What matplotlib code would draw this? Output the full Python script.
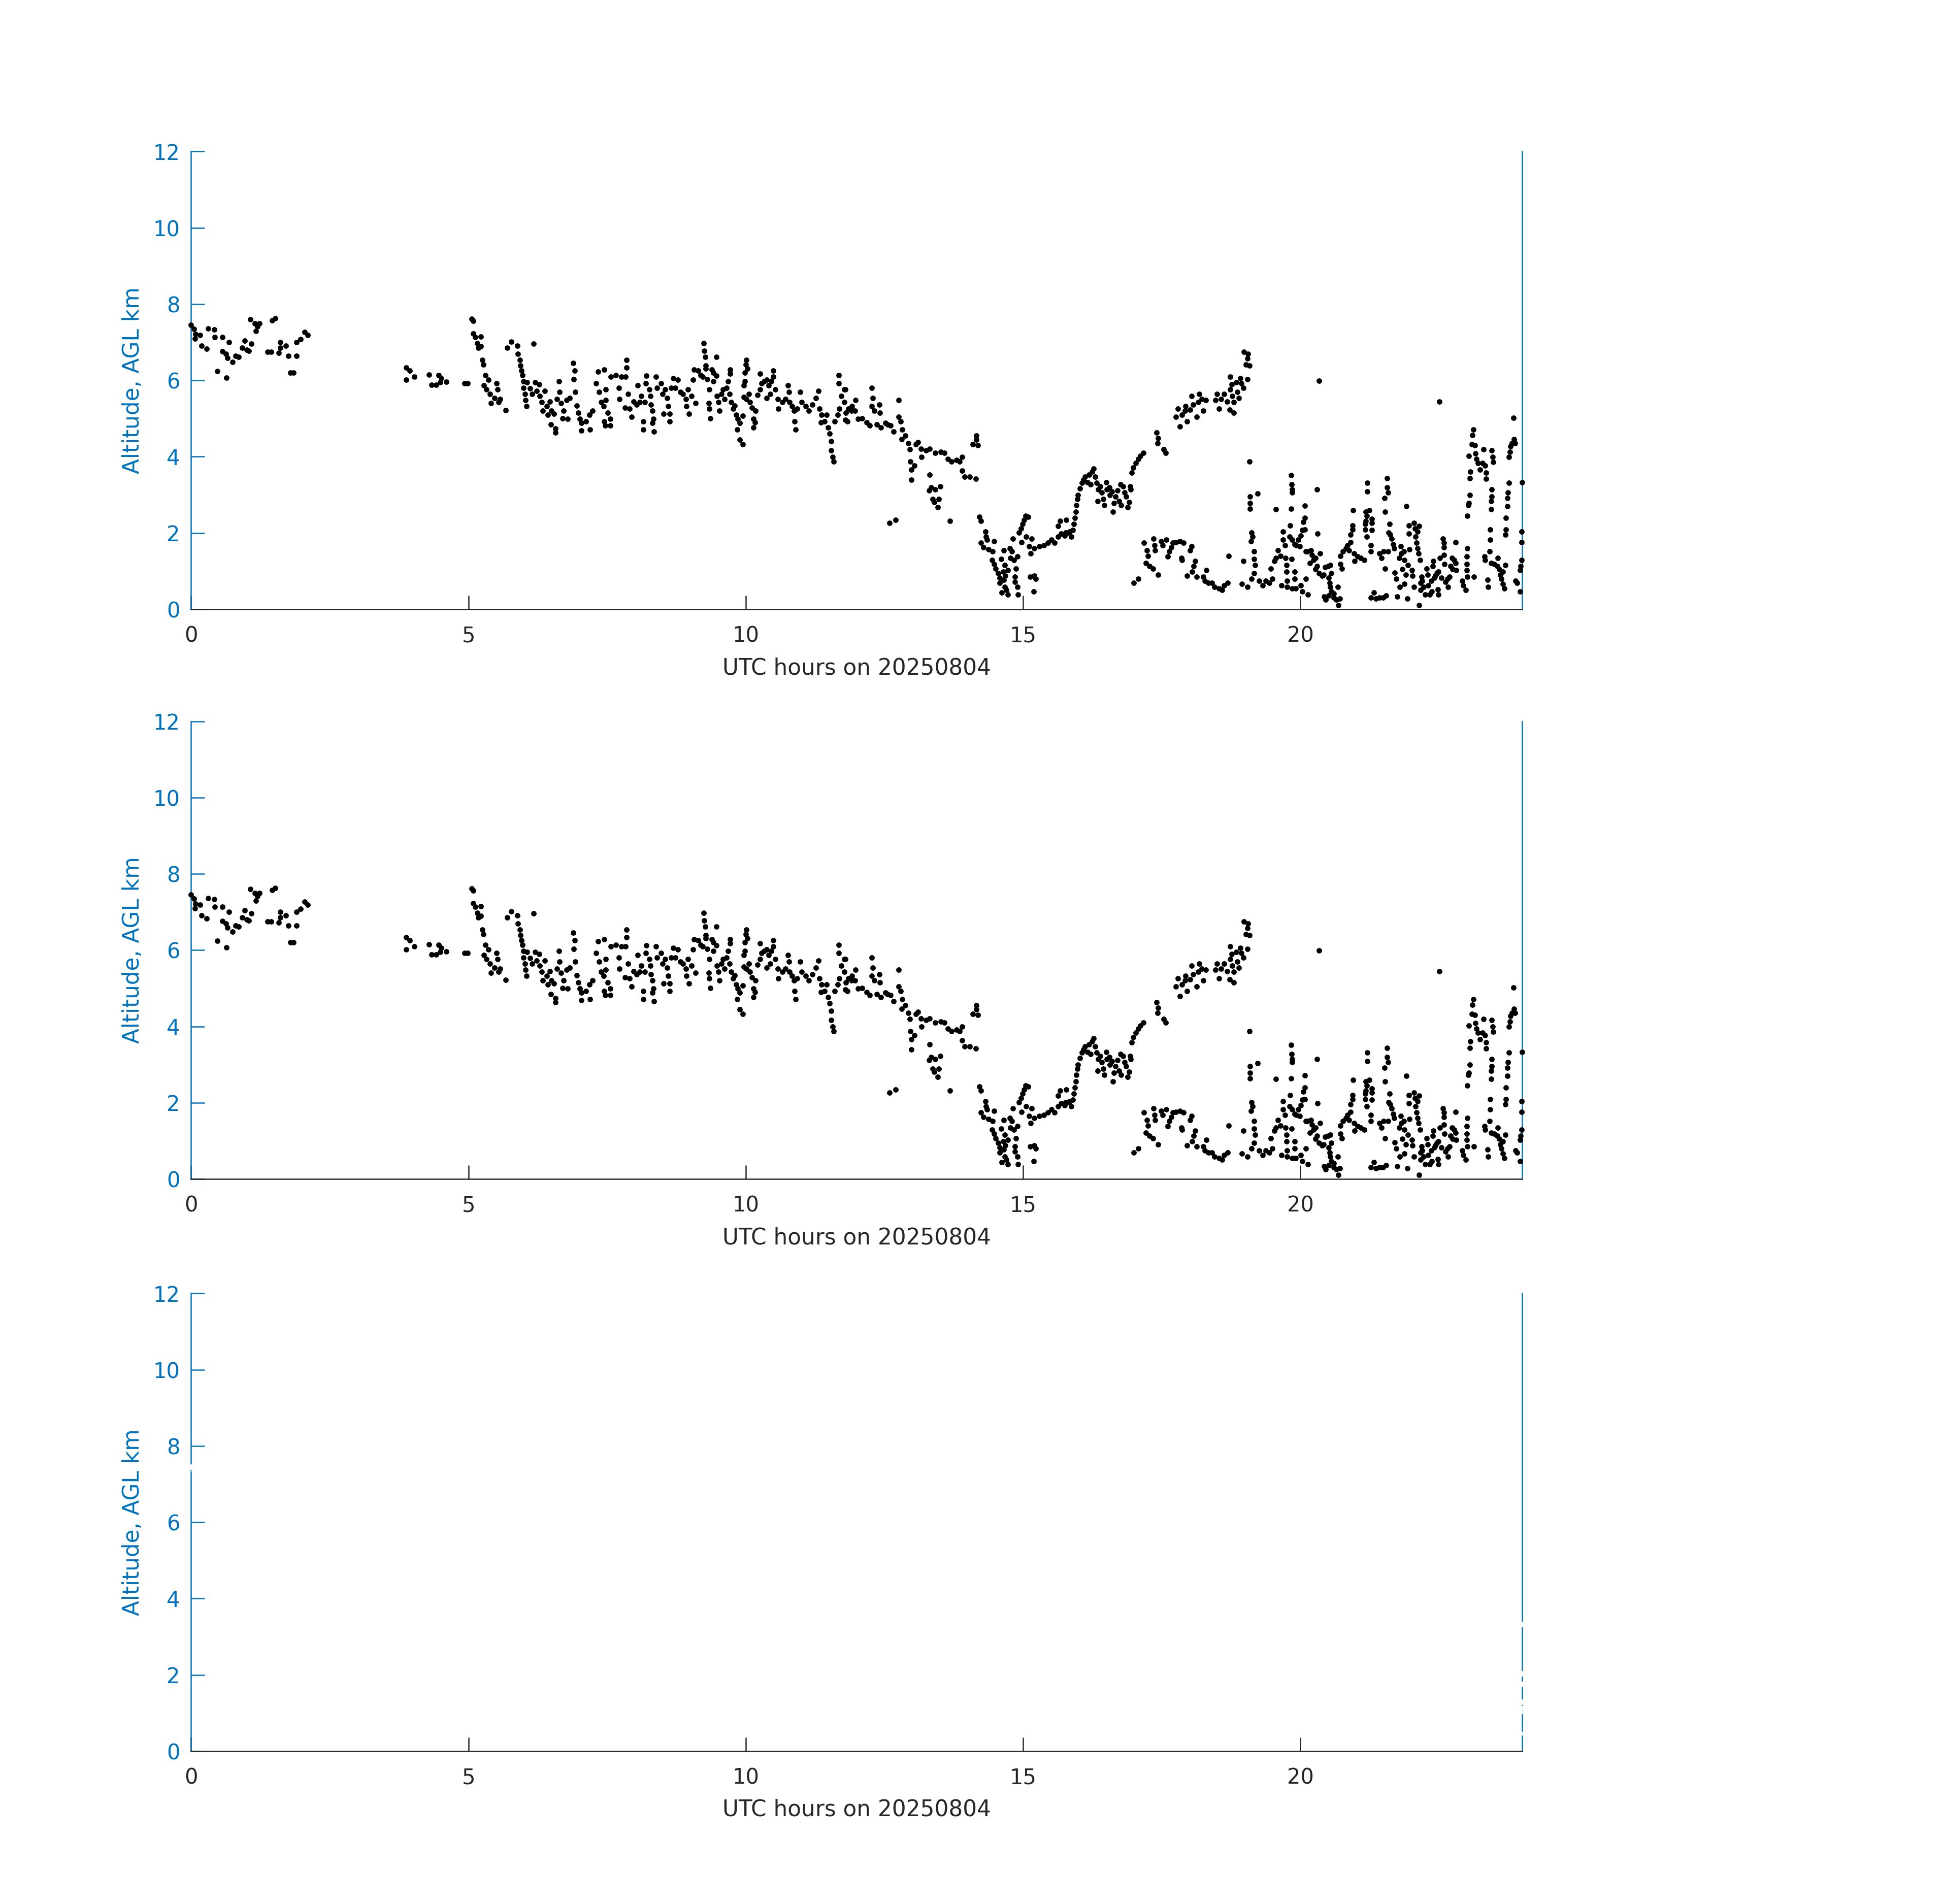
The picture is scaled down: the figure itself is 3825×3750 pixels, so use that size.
import numpy as np
import matplotlib
matplotlib.use("Agg")
import matplotlib.pyplot as plt

# (UTC hour, altitude AGL km), grouped by time span
seg_00_04 = [
    (0.00, 7.45), (0.05, 7.35), (0.08, 7.22), (0.16, 7.19), (0.07, 7.10), (0.19, 6.91), (0.28, 6.83),
    (0.31, 7.36), (0.42, 7.34), (0.43, 7.13), (0.56, 7.13), (0.47, 6.24), (0.64, 6.07), (0.56, 6.76),
    (0.63, 6.69), (0.66, 6.59), (0.68, 7.00), (0.75, 6.48), (0.80, 6.64), (0.86, 6.61), (0.92, 6.86),
    (1.00, 6.80), (0.97, 7.04), (1.04, 6.78), (1.09, 6.96), (1.07, 7.60), (1.15, 7.49), (1.23, 7.49),
    (1.17, 7.30), (1.20, 7.41), (1.46, 7.58), (1.52, 7.63), (1.38, 6.75), (1.44, 6.75), (1.58, 6.72),
    (1.61, 7.00), (1.71, 6.91), (1.61, 6.86), (1.75, 6.64), (1.79, 6.20), (1.85, 6.20), (1.90, 7.00),
    (1.97, 7.08), (2.05, 7.27), (2.10, 7.19), (1.90, 6.64), (3.88, 6.34), (3.94, 6.25), (4.02, 6.09),
    (3.88, 6.01),
]

seg_04_08 = [
    (4.29, 6.15), (4.34, 5.88), (4.42, 5.88), (4.46, 6.14), (4.51, 6.06), (4.60, 5.97), (4.49, 5.95),
    (4.93, 5.93), (4.99, 5.93), (5.06, 7.62), (5.09, 7.56), (5.09, 7.23), (5.12, 7.13), (5.22, 7.15),
    (5.16, 6.98), (5.18, 6.86), (5.22, 6.89), (5.25, 6.54), (5.27, 6.42), (5.31, 6.13), (5.36, 6.01),
    (5.28, 5.87), (5.32, 5.76), (5.39, 5.65), (5.47, 5.54), (5.53, 5.76), (5.57, 5.51), (5.51, 5.92),
    (5.41, 5.40), (5.54, 5.43), (5.67, 5.22), (5.70, 6.86), (5.77, 7.02), (5.88, 6.91), (5.89, 6.69),
    (5.93, 6.53), (5.94, 6.39), (5.96, 6.25), (5.97, 6.14), (5.99, 5.98), (5.99, 5.81), (6.02, 5.65),
    (6.03, 5.48), (6.05, 5.33), (6.18, 6.96), (6.06, 5.95), (6.11, 5.79), (6.20, 5.95), (6.15, 5.65),
    (6.23, 5.73), (6.28, 5.90), (6.29, 5.59), (6.32, 5.43), (6.38, 5.73), (6.34, 5.21), (6.41, 5.32),
    (6.47, 5.45), (6.50, 5.21), (6.43, 5.10), (6.54, 5.12), (6.49, 4.85), (6.57, 4.63), (6.57, 4.74),
    (6.63, 5.98), (6.64, 5.70), (6.60, 5.51), (6.67, 5.40), (6.72, 5.21), (6.77, 5.48), (6.70, 5.01),
    (6.79, 4.99), (6.83, 5.54), (6.89, 6.45), (6.92, 6.25), (6.90, 6.03), (6.93, 5.70), (6.95, 5.34),
    (6.98, 5.15), (7.01, 4.99), (7.04, 4.88), (7.04, 4.68), (7.12, 4.93), (7.18, 5.10), (7.24, 5.21),
    (7.19, 4.71), (7.30, 5.92), (7.34, 6.23), (7.36, 5.70), (7.39, 5.43), (7.44, 5.32), (7.48, 5.48),
    (7.51, 5.15), (7.45, 4.93), (7.47, 4.82), (7.56, 4.99), (7.56, 4.82), (7.45, 6.28), (7.48, 5.76),
    (7.57, 6.09), (7.66, 6.14), (7.76, 6.09), (7.83, 6.09), (7.85, 6.53), (7.85, 6.34), (7.71, 5.81),
    (7.72, 5.51), (7.82, 5.29), (7.88, 5.65), (7.91, 5.26), (7.94, 5.04),
]

seg_08_12 = [
    (7.98, 5.45), (8.03, 5.37), (8.09, 5.43), (8.12, 5.59), (8.18, 5.43), (8.05, 5.87), (8.21, 6.12),
    (8.20, 5.92), (8.26, 5.76), (8.28, 5.59), (8.29, 5.37), (8.15, 4.93), (8.15, 4.71), (8.32, 5.21),
    (8.34, 4.99), (8.35, 4.66), (8.32, 4.88), (8.38, 6.09), (8.40, 5.81), (8.47, 5.92), (8.50, 5.65),
    (8.55, 5.76), (8.58, 5.54), (8.60, 5.32), (8.63, 5.12), (8.63, 4.93), (8.52, 5.12), (8.66, 5.81),
    (8.69, 6.06), (8.73, 5.81), (8.78, 6.01), (8.82, 5.70), (8.87, 5.65), (8.92, 5.51), (8.96, 5.76),
    (8.93, 5.32), (8.98, 5.12), (9.02, 5.59), (9.07, 6.28), (9.10, 5.40), (9.05, 6.01), (9.14, 6.25),
    (9.19, 6.14), (9.22, 6.09), (9.24, 6.97), (9.25, 6.78), (9.27, 6.61), (9.28, 6.39), (9.28, 6.31),
    (9.31, 6.03), (9.34, 5.76), (9.33, 5.40), (9.34, 5.26), (9.36, 5.01), (9.39, 6.28), (9.42, 6.20),
    (9.47, 6.61), (9.47, 6.12), (9.42, 5.98), (9.48, 5.59), (9.51, 5.43), (9.53, 5.21), (9.56, 5.65),
    (9.59, 5.76), (9.62, 5.51), (9.65, 5.81), (9.68, 5.98), (9.71, 5.65), (9.72, 6.28), (9.72, 6.17),
    (9.74, 5.43), (9.77, 5.26), (9.80, 5.34), (9.83, 5.10), (9.86, 4.99), (9.89, 4.88), (9.85, 4.71),
    (9.89, 4.44), (9.95, 4.33), (9.95, 5.07), (10.01, 6.53), (10.00, 6.42), (10.03, 6.31), (9.98, 6.20),
    (9.98, 5.98), (9.97, 5.87), (9.97, 5.56), (10.01, 5.51), (10.06, 5.65), (10.08, 5.43), (10.11, 5.29),
    (10.14, 4.99), (10.14, 4.77), (10.18, 5.21), (10.17, 4.90), (10.26, 6.17), (10.21, 5.62),
    (10.26, 5.76), (10.29, 5.92), (10.33, 5.98), (10.38, 6.01), (10.41, 5.87), (10.44, 5.65),
    (10.38, 5.54), (10.46, 5.98), (10.50, 6.25), (10.50, 6.09), (10.53, 5.76), (10.58, 5.51),
    (10.59, 5.26), (10.66, 5.43), (10.72, 5.51), (10.76, 5.87), (10.78, 5.70), (10.79, 5.43),
    (10.84, 5.32), (10.87, 5.21), (10.88, 4.93), (10.90, 4.71), (10.93, 5.26), (10.98, 5.70),
    (11.01, 5.43), (11.08, 5.32), (11.14, 5.21), (11.20, 5.37), (11.27, 5.54), (11.31, 5.73),
    (11.33, 5.26), (11.37, 5.10), (11.36, 4.90), (11.42, 4.93), (11.46, 5.10), (11.49, 4.77),
    (11.51, 4.60), (11.54, 4.41), (11.54, 4.16), (11.57, 3.99), (11.59, 3.88), (11.60, 4.93),
    (11.66, 5.10), (11.69, 5.26), (11.68, 6.14), (11.68, 5.92), (11.72, 5.59), (11.78, 5.76),
    (11.78, 5.43), (11.80, 4.96), (11.85, 5.26), (11.91, 5.21), (11.80, 5.76), (11.81, 5.15),
]

seg_12_16 = [
    (11.83, 4.93), (11.92, 5.32), (11.98, 5.48), (11.97, 5.21), (12.03, 4.99), (12.10, 5.01),
    (12.18, 4.90), (12.24, 4.82), (12.27, 5.81), (12.29, 5.54), (12.27, 5.32), (12.32, 5.21),
    (12.41, 5.37), (12.42, 5.15), (12.36, 4.85), (12.44, 4.77), (12.52, 4.88), (12.56, 4.85),
    (12.61, 4.82), (12.67, 4.66), (12.76, 5.48), (12.76, 5.04), (12.79, 4.93), (12.82, 4.71),
    (12.81, 4.46), (12.88, 4.55), (12.93, 4.35), (12.96, 4.19), (12.97, 3.88), (12.99, 3.66),
    (12.99, 3.39), (13.04, 3.77), (13.07, 4.33), (13.11, 4.38), (13.16, 4.21), (13.17, 3.99),
    (13.25, 4.16), (13.32, 4.21), (13.42, 4.10), (13.52, 4.13), (13.58, 4.10), (13.65, 3.94),
    (13.71, 3.88), (13.80, 3.91), (13.86, 3.88), (13.90, 3.99), (13.90, 3.64), (13.95, 3.47),
    (14.04, 3.47), (14.15, 3.42), (14.09, 4.33), (14.16, 4.55), (14.16, 4.44), (14.19, 4.30),
    (13.32, 3.53), (13.31, 3.11), (13.34, 3.20), (13.42, 3.14), (13.51, 3.22), (13.37, 2.89),
    (13.48, 2.89), (13.40, 2.81), (13.46, 2.67), (12.70, 2.34), (12.59, 2.26), (13.68, 2.31),
    (14.21, 2.42), (14.24, 2.31), (14.32, 2.04), (14.33, 1.90), (14.35, 1.82), (14.24, 1.74),
    (14.29, 1.63), (14.38, 1.57), (14.45, 1.52), (14.48, 1.79), (14.44, 1.29), (14.48, 1.18),
    (14.51, 1.07), (14.55, 0.94), (14.58, 0.83), (14.61, 1.32), (14.67, 1.16), (14.64, 0.99),
    (14.68, 0.88), (14.65, 0.77), (14.58, 0.69), (14.67, 0.58), (14.70, 0.50), (14.73, 0.39),
    (14.62, 0.44), (14.65, 1.54), (14.76, 1.60), (14.80, 1.52), (14.73, 1.02), (14.77, 1.35),
    (14.84, 1.29), (14.90, 1.38), (14.87, 1.07), (14.85, 0.85), (14.85, 0.72), (14.90, 0.58),
    (14.91, 0.39), (14.82, 1.85), (14.93, 2.01), (14.96, 2.12), (14.99, 2.23), (15.02, 2.34),
    (15.05, 2.45), (15.09, 2.42), (14.97, 1.76), (15.06, 1.90), (15.16, 1.85), (15.11, 1.65),
    (15.14, 1.46), (15.20, 1.60), (15.29, 1.65), (15.38, 1.68), (15.45, 1.74), (15.51, 1.82),
    (15.57, 1.74), (15.63, 1.90), (15.69, 1.98), (15.77, 2.01), (15.84, 2.04), (15.63, 2.18),
    (15.67, 2.31), (15.78, 2.34), (15.13, 0.85), (15.20, 0.88), (15.23, 0.80), (15.19, 0.47),
]

seg_16_20 = [
    (15.75, 1.93), (15.81, 2.01), (15.87, 1.90), (15.90, 2.07), (15.92, 2.23), (15.93, 2.40),
    (15.95, 2.56), (15.96, 2.73), (15.98, 2.89), (15.99, 3.00), (16.03, 3.17), (16.06, 3.31),
    (16.09, 3.39), (16.12, 3.47), (16.16, 3.33), (16.19, 3.53), (16.22, 3.28), (16.25, 3.61),
    (16.27, 3.69), (16.30, 3.47), (16.33, 3.31), (16.36, 3.14), (16.35, 2.84), (16.39, 3.22),
    (16.42, 3.06), (16.45, 2.89), (16.47, 2.73), (16.50, 3.33), (16.51, 3.14), (16.56, 3.20),
    (16.57, 3.00), (16.60, 3.09), (16.64, 2.78), (16.62, 2.56), (16.67, 2.95), (16.70, 3.11),
    (16.73, 2.84), (16.76, 3.28), (16.77, 2.73), (16.80, 3.22), (16.83, 3.06), (16.86, 2.95),
    (16.89, 2.67), (16.91, 2.81), (16.93, 3.22), (16.94, 3.14), (16.96, 3.58), (16.99, 3.72),
    (17.03, 3.83), (17.08, 3.94), (17.12, 4.02), (17.17, 4.10), (17.41, 4.63), (17.44, 4.49),
    (17.43, 4.35), (17.54, 4.19), (17.57, 4.10), (17.79, 5.26), (17.83, 4.79), (17.76, 5.04),
    (17.87, 5.10), (17.92, 5.21), (17.93, 5.32), (17.96, 4.93), (18.01, 5.23), (18.04, 5.59),
    (18.07, 5.37), (18.13, 5.04), (18.16, 5.43), (18.18, 5.65), (18.22, 5.51), (18.25, 5.21),
    (18.30, 5.49), (18.47, 5.48), (18.50, 5.65), (18.53, 5.26), (18.57, 5.51), (18.63, 5.65),
    (18.68, 5.45), (18.74, 6.09), (18.76, 5.90), (18.74, 5.76), (18.77, 5.59), (18.80, 5.43),
    (18.73, 5.23), (18.80, 5.15), (18.85, 5.95), (18.86, 5.70), (18.89, 5.54), (18.92, 6.06),
    (18.94, 5.92), (18.97, 5.81), (19.05, 6.03), (18.98, 6.75), (19.05, 6.58), (19.02, 6.42),
    (19.06, 6.69), (19.08, 6.39),
    (17.00, 0.69), (17.08, 0.80), (17.18, 1.74), (17.23, 1.54), (17.25, 1.40), (17.22, 1.21),
    (17.28, 1.13), (17.34, 1.07), (17.35, 1.85), (17.37, 1.68), (17.38, 1.54), (17.44, 0.91),
    (17.49, 1.79), (17.52, 1.68), (17.58, 1.82), (17.61, 1.38), (17.64, 1.52), (17.67, 1.63),
    (17.70, 1.74), (17.76, 1.76), (17.83, 1.79), (17.89, 1.74), (17.87, 1.29), (17.86, 1.35),
    (18.04, 1.65), (18.01, 1.54), (18.10, 1.27), (18.08, 1.13), (18.05, 0.99), (17.96, 0.88),
    (18.13, 0.85), (18.31, 1.02), (18.25, 0.85), (18.28, 0.74), (18.34, 0.69), (18.41, 0.69),
    (18.45, 0.58), (18.53, 0.55), (18.59, 0.50), (18.63, 0.63), (18.69, 0.69), (18.71, 1.40),
    (18.97, 1.27), (18.95, 0.66), (19.05, 0.58), (19.08, 3.88), (19.09, 2.95), (19.09, 2.78),
    (19.09, 2.64), (19.12, 2.01), (19.14, 1.90), (19.11, 1.79), (19.17, 1.52), (19.17, 1.32),
    (19.18, 1.16), (19.17, 0.94), (19.12, 0.80), (19.23, 3.03), (19.26, 0.74), (19.32, 0.63),
    (19.38, 0.74), (19.44, 0.69), (19.50, 0.80), (19.56, 2.62), (19.60, 1.54), (19.56, 1.35),
    (19.53, 1.27), (19.47, 1.07),
]

seg_20_24 = [
    (20.34, 5.99), (22.51, 5.45), (23.84, 5.02),
    (19.83, 3.51), (19.84, 3.28), (19.85, 3.14), (19.85, 3.06), (19.83, 2.64), (19.82, 2.20),
    (19.81, 1.90), (19.85, 1.82), (19.90, 1.71), (19.93, 1.68), (19.99, 1.65), (19.96, 1.82),
    (20.01, 1.93), (20.04, 2.07), (20.05, 2.29), (20.08, 2.39), (20.08, 2.72), (20.08, 2.09),
    (19.64, 1.40), (19.69, 2.04), (19.69, 1.82), (19.72, 1.68), (19.73, 1.35), (19.75, 1.16),
    (19.75, 0.99), (19.76, 0.74), (19.76, 0.58), (19.85, 0.55), (19.92, 0.55), (19.84, 1.32),
    (19.90, 0.99), (19.90, 0.80), (19.66, 0.63), (20.01, 0.63), (20.04, 0.47), (20.10, 0.80),
    (20.14, 0.39), (20.10, 1.52), (20.13, 1.52), (20.19, 1.54), (20.21, 1.43), (20.17, 1.21),
    (20.24, 1.29), (20.27, 1.35), (20.30, 1.13), (20.27, 1.05), (20.36, 1.46), (20.34, 0.94),
    (20.31, 1.98), (20.30, 3.14), (20.39, 0.88), (20.45, 1.10), (20.42, 0.91), (20.50, 1.13),
    (20.54, 1.16), (20.51, 0.83), (20.53, 0.69), (20.54, 0.58), (20.56, 0.94), (20.51, 0.36),
    (20.46, 0.25), (20.43, 0.33), (20.56, 0.47), (20.60, 0.41), (20.60, 0.30), (20.65, 0.25),
    (20.68, 0.58), (20.69, 0.11), (20.71, 0.28), (20.72, 1.18), (20.75, 1.07), (20.72, 1.40),
    (20.77, 1.52), (20.82, 1.60), (20.85, 1.68), (20.91, 1.76), (20.91, 1.96), (20.94, 2.09),
    (20.94, 2.20), (20.95, 2.59), (20.88, 1.54), (20.97, 1.46), (21.03, 1.38), (21.09, 1.35),
    (21.15, 1.29), (20.98, 1.27), (21.17, 2.23), (21.17, 2.09), (21.18, 2.31), (21.18, 2.56),
    (21.20, 2.45), (21.21, 3.31), (21.21, 3.09), (21.24, 2.59), (21.29, 2.37), (21.29, 2.26),
    (21.27, 1.68), (21.27, 1.52), (21.29, 2.07), (21.20, 1.90), (21.27, 0.30), (21.33, 0.44),
    (21.36, 0.28), (21.43, 0.30), (21.49, 0.30), (21.55, 0.36), (21.43, 1.46), (21.46, 1.35),
    (21.50, 1.52), (21.58, 1.52), (21.53, 1.07), (21.52, 2.92), (21.53, 2.56), (21.56, 3.44),
    (21.56, 3.20), (21.58, 3.06), (21.61, 2.23), (21.59, 2.01), (21.62, 1.96), (21.65, 1.85),
    (21.67, 1.71), (21.69, 1.60), (21.70, 0.96), (21.73, 0.80), (21.75, 0.33), (21.78, 1.35),
    (21.79, 0.58), (21.81, 1.65), (21.82, 1.46), (21.84, 1.05), (21.87, 1.52), (21.88, 1.29),
    (21.90, 0.91), (21.91, 2.70), (21.88, 0.66), (21.93, 0.28), (21.94, 1.16), (21.96, 2.20),
    (21.96, 1.98), (21.97, 1.57), (22.01, 1.02), (22.02, 0.88), (22.05, 2.26), (22.05, 0.58),
    (22.07, 2.12), (22.08, 1.90), (22.10, 1.74), (22.11, 2.04), (22.11, 1.60), (22.13, 1.46),
    (22.14, 2.18), (22.16, 1.29), (22.17, 0.69), (22.19, 0.85), (22.17, 0.50), (22.20, 0.74),
    (22.22, 0.58), (22.14, 0.11), (22.25, 0.39), (22.28, 1.07), (22.30, 0.91), (22.31, 0.63),
    (22.33, 0.39), (22.36, 0.74), (22.37, 0.47), (22.39, 1.13), (22.40, 1.27), (22.42, 0.83),
    (22.43, 0.88), (22.46, 0.94), (22.48, 0.52), (22.49, 0.39), (22.49, 0.99), (22.52, 1.35),
    (22.54, 0.83), (22.57, 1.85), (22.59, 1.74), (22.59, 1.63), (22.59, 1.43), (22.60, 1.18),
    (22.62, 0.72), (22.65, 0.80), (22.66, 0.58), (22.69, 0.85), (22.71, 1.13), (22.74, 1.35),
    (22.75, 1.05), (22.77, 1.29), (22.80, 1.21), (22.80, 1.76), (22.81, 1.02), (22.92, 0.74),
    (22.94, 0.63), (22.98, 0.50), (23.01, 0.85), (23.00, 1.02), (23.00, 1.18), (23.00, 1.38),
    (23.01, 1.60), (23.01, 2.45), (23.03, 2.73), (23.04, 2.78), (23.06, 3.00), (23.06, 3.44),
    (23.07, 3.61), (23.04, 4.02), (23.09, 4.33), (23.10, 4.57), (23.12, 4.71), (23.15, 4.30),
    (23.16, 4.08), (23.18, 3.94), (23.20, 3.83), (23.24, 3.66), (23.29, 3.83), (23.30, 4.19),
    (23.33, 3.77), (23.35, 3.58), (23.35, 3.42), (23.13, 0.85), (23.32, 1.38), (23.33, 1.29),
    (23.38, 0.77), (23.39, 0.58), (23.41, 1.52), (23.42, 1.82), (23.42, 2.09), (23.44, 2.62),
    (23.44, 2.84), (23.45, 2.95), (23.45, 3.14), (23.44, 1.21), (23.45, 4.16), (23.47, 3.99),
    (23.48, 3.86), (23.50, 1.18), (23.55, 1.13), (23.56, 1.35), (23.59, 1.05), (23.61, 0.91),
    (23.62, 0.80), (23.65, 0.66), (23.68, 0.55), (23.65, 0.99), (23.70, 1.16), (23.70, 1.96),
    (23.71, 2.09), (23.71, 2.40), (23.73, 2.70), (23.73, 2.92), (23.74, 3.06), (23.76, 3.31),
    (23.76, 3.99), (23.78, 4.13), (23.79, 4.27), (23.82, 4.35), (23.85, 4.46), (23.87, 4.35),
    (23.88, 0.74), (23.91, 0.69), (23.96, 0.47), (23.96, 1.02), (23.97, 1.13), (23.99, 1.29),
    (23.99, 1.76), (23.99, 2.04), (24.00, 3.33),
]

x_ticks = [0, 5, 10, 15, 20]
y_ticks = [0, 2, 4, 6, 8, 10, 12]
x_label = "UTC hours on 20250804"
y_label = "Altitude, AGL km"

blue = "#0072BD"
dark = "#262626"

plt.rcParams["font.family"] = ["DejaVu Sans"]

pts = np.array(seg_00_04 + seg_04_08 + seg_08_12 + seg_12_16 + seg_16_20 + seg_20_24)
hrs, alt = pts[:, 0], pts[:, 1]

fig = plt.figure(figsize=(12.75, 12.5), dpi=300)

# three stacked panels; the last one carries the same series drawn in white
bottoms = [0.6800, 0.3808, 0.0803]
for k, b in enumerate(bottoms):
    ax = fig.add_axes([0.0984, b, 0.6854, 0.2404])
    c = "k" if k < 2 else "w"
    ax.plot(hrs, alt, "o", ls="none", ms=2.6, mfc=c, mec=c, mew=0,
            clip_on=False, zorder=3)

    ax.set_xlim(0, 24)
    ax.set_ylim(0, 12)
    ax.set_xticks(x_ticks)
    ax.set_yticks(y_ticks)

    ax.spines["top"].set_visible(False)
    ax.spines["left"].set_color(blue)
    ax.spines["right"].set_color(blue)
    ax.spines["bottom"].set_color(dark)
    for s in ax.spines.values():
        s.set_linewidth(0.6)

    ax.tick_params(axis="x", direction="in", length=6.5, width=0.6, color=dark,
                   labelcolor=dark, labelsize=10, pad=7.5, top=False)
    ax.tick_params(axis="y", direction="in", length=6.5, width=0.6, color=blue,
                   labelcolor=blue, labelsize=10, pad=5.3, right=False)

    ax.set_xlabel(x_label, fontsize=10.5, color=dark, labelpad=5)
    ax.set_ylabel(y_label, fontsize=10.5, color=blue, labelpad=4.5)

fig.savefig("out.png", dpi=300)
